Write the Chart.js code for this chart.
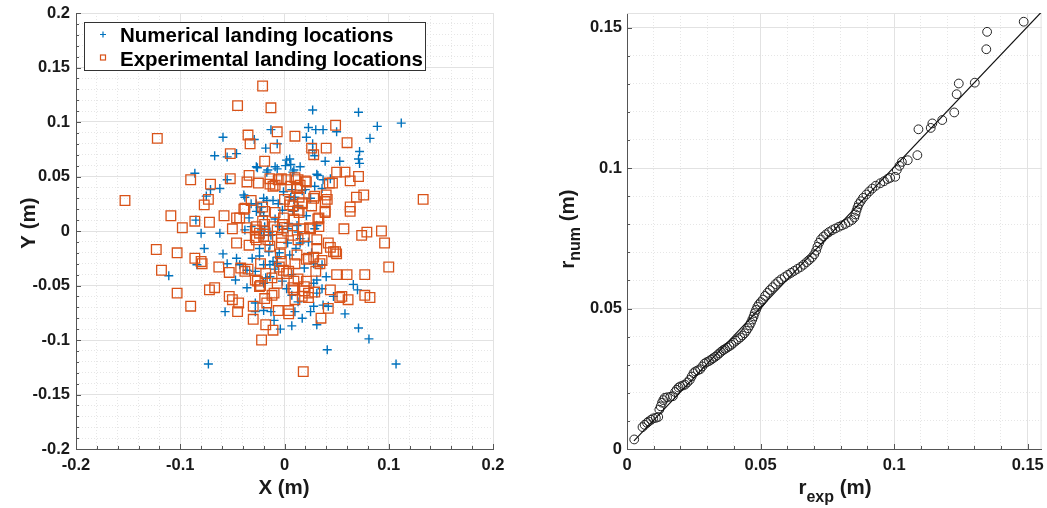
<!DOCTYPE html>
<html><head><meta charset="utf-8">
<script src="https://cdn.jsdelivr.net/npm/chart.js@4/dist/chart.umd.min.js"></script>
<style>
html,body{margin:0;padding:0;background:#fff;}
body{width:1047px;height:508px;position:relative;overflow:hidden;}
#c1{position:absolute;left:0;top:0;width:520px;height:508px;}
#c2{position:absolute;left:537px;top:0;width:510px;height:508px;}
</style></head><body>
<canvas id="c1" width="520" height="508"></canvas>
<canvas id="c2" width="510" height="508"></canvas>
<script>
// ---------- DATA ----------
const numLabel = 'Numerical landing locations';
const expLabel = 'Experimental landing locations';

const numX = [0.027,0.071,0.112,0.089,0.023,0.030,0.037,0.050,-0.013,-0.059,0.082,0.021,-0.029,-0.007,0.027,-0.018,0.027,0.072,-0.046,-0.067,-0.055,0.029,0.005,0.039,0.053,0.071,0.072,-0.027,0.015,0.001,-0.007,0.008,-0.086,0.031,-0.017,0.037,0.044,-0.055,-0.001,-0.062,-0.071,-0.075,0.017,0.029,0.036,-0.039,-0.020,-0.011,-0.027,0.025,0.009,0.013,-0.002,-0.027,-0.085,-0.034,-0.020,-0.080,-0.062,-0.038,-0.019,0.003,0.029,-0.013,0.015,0.023,-0.077,-0.059,-0.046,-0.031,-0.015,-0.007,0.026,-0.111,-0.084,-0.055,-0.043,-0.036,-0.020,-0.014,-0.007,0.005,0.028,0.036,0.019,0.040,-0.047,-0.036,-0.020,-0.014,-0.002,0.002,0.007,0.028,0.031,0.036,0.066,0.070,0.047,0.013,0.028,0.037,0.042,-0.028,-0.028,-0.020,-0.013,-0.057,0.010,0.025,0.058,-0.010,0.017,0.031,0.007,-0.004,0.071,0.081,0.041,-0.073,0.107,-0.026,-0.016,0.002,-0.009,0.009,0.006,0.007,-0.038,-0.032,-0.022,-0.017,-0.006,0.006,-0.023,-0.009,0.004,-0.032,-0.022,-0.014,-0.005,0.013,0.032,0.020,0.010,0.008,0.021,0.031,0.012,-0.024,-0.011,-0.009,-0.028,-0.018,0.007,-0.020,-0.014,-0.005,0.003,0.011,-0.024,0.015,0.031];
const numY = [0.111,0.109,0.099,0.096,0.095,0.093,0.093,0.091,0.093,0.086,0.085,0.086,0.084,0.080,0.080,0.076,0.074,0.073,0.071,0.069,0.068,0.069,0.066,0.064,0.064,0.066,0.062,0.059,0.059,0.060,0.057,0.054,0.053,0.052,0.054,0.047,0.048,0.047,0.036,0.039,0.038,0.032,0.037,0.041,0.039,0.033,0.030,0.028,0.025,0.030,0.029,0.022,0.019,0.018,0.010,0.012,0.014,-0.002,-0.002,0.001,0.004,0.002,0.002,-0.004,-0.007,-0.010,-0.016,-0.021,-0.025,-0.025,-0.019,-0.024,-0.020,-0.041,-0.031,-0.030,-0.031,-0.036,-0.031,-0.031,-0.030,-0.022,-0.030,-0.031,-0.034,-0.042,-0.045,-0.052,-0.048,-0.042,-0.046,-0.053,-0.059,-0.048,-0.057,-0.053,-0.049,-0.054,-0.060,-0.065,-0.069,-0.068,-0.069,-0.066,-0.074,-0.073,-0.074,-0.074,-0.074,-0.074,-0.076,-0.082,-0.080,-0.086,-0.087,-0.090,-0.089,-0.099,-0.109,-0.122,-0.122,0.058,0.056,0.065,0.059,0.056,0.061,0.038,0.031,0.025,0.022,0.028,0.025,0.031,0.017,0.011,0.007,0.004,0.001,-0.001,0.004,-0.001,0.051,0.038,0.031,0.018,0.014,0.005,0.005,-0.023,-0.028,-0.035,-0.037,-0.043,-0.040,-0.004,-0.013,-0.020,-0.011,-0.016,-0.016,-0.011,-0.045];

const expX = [-0.021,-0.045,-0.013,-0.122,-0.035,-0.007,0.010,0.049,0.060,-0.033,-0.009,0.026,0.040,-0.052,0.028,-0.019,0.050,0.058,0.071,0.063,-0.090,-0.052,-0.034,-0.036,-0.014,-0.006,-0.003,0.002,0.013,0.021,-0.025,-0.014,-0.009,0.006,0.015,0.043,-0.071,-0.153,0.133,0.076,0.069,-0.073,-0.077,0.040,0.041,0.028,0.014,0.000,-0.032,0.005,0.017,0.026,0.063,0.063,-0.039,-0.019,-0.009,0.013,0.039,-0.109,-0.058,-0.046,-0.098,-0.086,-0.072,-0.050,-0.036,-0.027,-0.019,-0.011,-0.002,0.009,0.018,0.025,0.033,0.033,0.057,0.074,0.079,0.093,0.096,-0.123,-0.103,-0.086,-0.046,-0.034,-0.027,-0.020,-0.014,-0.003,0.008,0.013,0.031,0.031,0.042,0.044,0.049,-0.004,0.012,0.028,-0.079,-0.118,-0.063,-0.053,-0.038,-0.035,-0.023,-0.018,-0.005,-0.001,0.002,0.010,0.021,0.034,0.050,0.060,0.077,0.100,-0.103,-0.090,-0.072,-0.067,-0.053,-0.050,-0.044,-0.045,-0.026,-0.023,-0.019,-0.017,-0.010,-0.030,-0.030,-0.018,-0.011,-0.006,0.004,0.004,0.009,0.013,0.021,0.019,0.009,0.017,0.023,0.010,0.029,0.044,0.055,0.061,0.077,0.082,0.042,0.035,-0.022,0.018,-0.011,0.010,0.012,0.005,-0.038,-0.021,-0.001,-0.043,-0.021,-0.028,-0.007,0.020,0.012,0.029,0.039,0.017,0.008,0.014,0.032,0.039,0.024,0.009,0.046,-0.028,-0.024,-0.016,-0.003,0.003,-0.080,-0.042,-0.028,-0.024,-0.012,-0.007,-0.003,0.004,-0.012,0.019,0.023,0.036,0.030,0.019,0.008,0.023,0.053,0.047,0.050];
const expY = [0.133,0.115,0.113,0.085,0.088,0.091,0.087,0.097,0.081,0.080,0.076,0.076,0.076,0.071,0.070,0.064,0.054,0.054,0.050,0.046,0.047,0.048,0.051,0.045,0.048,0.047,0.048,0.047,0.047,0.045,0.044,0.043,0.042,0.041,0.042,0.044,0.043,0.028,0.029,0.033,0.031,0.029,0.024,0.033,0.029,0.030,0.031,0.029,0.028,0.027,0.025,0.023,0.022,0.018,0.020,0.018,0.017,0.019,0.017,0.014,0.014,0.012,0.003,0.009,0.008,0.002,0.003,0.004,0.006,0.004,0.006,0.010,0.002,0.002,0.012,0.004,0.002,-0.004,-0.001,0.000,-0.011,-0.017,-0.020,-0.025,-0.011,-0.013,-0.008,-0.005,-0.014,-0.011,-0.004,-0.008,-0.008,-0.016,-0.011,-0.015,-0.019,-0.021,-0.022,-0.024,-0.030,-0.036,-0.033,-0.038,-0.037,-0.035,-0.030,-0.039,-0.033,-0.036,-0.039,-0.030,-0.026,-0.030,-0.040,-0.040,-0.040,-0.033,-0.057,-0.069,-0.054,-0.052,-0.060,-0.063,-0.066,-0.074,-0.046,-0.050,-0.062,-0.066,-0.057,-0.069,-0.081,-0.086,-0.091,-0.073,-0.073,-0.076,-0.046,-0.044,-0.046,-0.051,-0.054,-0.060,-0.057,-0.063,-0.056,-0.054,-0.060,-0.063,-0.059,-0.061,-0.071,-0.080,-0.100,-0.129,0.041,0.049,0.040,0.024,0.021,0.022,0.012,0.012,0.009,0.001,0.001,0.046,0.039,0.032,0.027,0.026,0.023,0.017,0.011,0.018,0.003,0.011,0.044,-0.006,-0.002,-0.008,-0.006,0.000,-0.028,-0.034,-0.045,-0.051,-0.043,-0.048,-0.028,-0.037,-0.059,-0.005,-0.025,-0.027,-0.037,-0.055,-0.052,-0.061,-0.061,-0.019,-0.021];

// Q-Q plot: sorted experimental radii vs sorted numerical radii
const qqExp = [0.0027,0.0058,0.0066,0.0075,0.0081,0.0090,0.0098,0.0108,0.0117,0.0121,0.0126,0.0131,0.0136,0.0141,0.0150,0.0162,0.0172,0.0180,0.0186,0.0193,0.0200,0.0209,0.0217,0.0226,0.0235,0.0242,0.0249,0.0256,0.0265,0.0274,0.0282,0.0290,0.0298,0.0307,0.0315,0.0322,0.0330,0.0338,0.0345,0.0352,0.0360,0.0367,0.0375,0.0383,0.0391,0.0399,0.0408,0.0416,0.0424,0.0432,0.0440,0.0447,0.0453,0.0459,0.0464,0.0469,0.0474,0.0478,0.0483,0.0488,0.0494,0.0501,0.0509,0.0517,0.0526,0.0535,0.0545,0.0556,0.0566,0.0577,0.0590,0.0602,0.0614,0.0626,0.0638,0.0650,0.0661,0.0672,0.0682,0.0692,0.0701,0.0708,0.0713,0.0719,0.0726,0.0735,0.0745,0.0756,0.0768,0.0780,0.0793,0.0805,0.0817,0.0830,0.0842,0.0851,0.0855,0.0859,0.0863,0.0868,0.0875,0.0884,0.0896,0.0907,0.0918,0.0931,0.0948,0.0962,0.0975,0.0985,0.1004,0.1010,0.1020,0.1029,0.1051,0.1087,0.1091,0.1137,0.1143,0.1180,0.1225,0.1234,0.1242,0.1302,0.1345,0.1348,0.1485];
const qqNum = [0.0034,0.0078,0.0086,0.0093,0.0098,0.0104,0.0109,0.0111,0.0114,0.0140,0.0152,0.0165,0.0174,0.0182,0.0184,0.0186,0.0188,0.0203,0.0211,0.0219,0.0223,0.0226,0.0229,0.0237,0.0246,0.0258,0.0270,0.0276,0.0280,0.0284,0.0294,0.0304,0.0309,0.0313,0.0318,0.0323,0.0328,0.0334,0.0340,0.0346,0.0352,0.0356,0.0361,0.0366,0.0371,0.0378,0.0385,0.0391,0.0397,0.0404,0.0412,0.0421,0.0430,0.0440,0.0450,0.0461,0.0472,0.0484,0.0495,0.0506,0.0515,0.0523,0.0532,0.0545,0.0556,0.0566,0.0576,0.0587,0.0596,0.0604,0.0612,0.0620,0.0627,0.0634,0.0641,0.0648,0.0656,0.0665,0.0673,0.0682,0.0693,0.0706,0.0720,0.0734,0.0746,0.0756,0.0764,0.0772,0.0779,0.0785,0.0791,0.0796,0.0801,0.0808,0.0815,0.0824,0.0835,0.0848,0.0860,0.0872,0.0882,0.0894,0.0906,0.0917,0.0927,0.0937,0.0946,0.0953,0.0961,0.0965,0.0969,0.0993,0.1008,0.1022,0.1028,0.1046,0.1138,0.1143,0.1159,0.1171,0.1198,0.1263,0.1301,0.1304,0.1423,0.1485,0.1521];
const refLineX = [0.0026, 0.1552];
const refLineY = [0.0029, 0.1556];

// ticks
const leftXTicks = [-0.2,-0.1,0,0.1,0.2];
const leftXLabels = ['-0.2','-0.1','0','0.1','0.2'];
const leftYTicks = [-0.2,-0.15,-0.1,-0.05,0,0.05,0.1,0.15,0.2];
const leftYLabels = ['-0.2','-0.15','-0.1','-0.05','0','0.05','0.1','0.15','0.2'];
const rTicks = [0,0.05,0.1,0.15];
const rLabels = ['0','0.05','0.1','0.15'];

// titles
const leftXTitle = 'X (m)';
const leftYTitle = 'Y (m)';
const rightXTitle = [['r',false],['exp',true],[' (m)',false]];
const rightYTitle = [['r',false],['num',true],[' (m)',false]];

// ---------- STYLE ----------
const FONT = "'Liberation Sans', Arial, Helvetica, sans-serif";
const BLUE = '#0072BD', ORANGE = '#D95319';
const AXIS = '#555555', TXT = '#1a1a1a';
const MAJOR = '#e2e2e2', MINOR = '#e6e6e6';
const MAIN_FONT = 'bold 20.5px ' + FONT;
const SUB_FONT = 'bold 16px ' + FONT;

const pts = (xs, ys) => xs.map((x, i) => ({x, y: ys[i]}));
const setTicks = (vals) => (s) => { s.ticks = vals.map(v => ({value: v})); };
const fixW = (w) => (s) => { s.width = w; s.paddingTop = 0; s.paddingBottom = 0; };
const fixH = (h) => (s) => { s.height = h; s.paddingLeft = 0; s.paddingRight = 0; };

function drawParts(ctx, parts, cx, base, rot, subOff) {
  ctx.save();
  ctx.translate(cx, base);
  if (rot) ctx.rotate(-Math.PI / 2);
  const ws = parts.map(p => { ctx.font = p[1] ? SUB_FONT : MAIN_FONT; return ctx.measureText(p[0]).width; });
  let x = -ws.reduce((a, b) => a + b, 0) / 2;
  ctx.fillStyle = TXT; ctx.textAlign = 'left'; ctx.textBaseline = 'alphabetic';
  parts.forEach((p, i) => { ctx.font = p[1] ? SUB_FONT : MAIN_FONT; ctx.fillText(p[0], x, p[1] ? subOff : 0); x += ws[i]; });
  ctx.restore();
}

function inwardTicks(chart, xs, ys) {
  const ctx = chart.ctx, a = chart.chartArea;
  ctx.save(); ctx.strokeStyle = AXIS; ctx.lineWidth = 1; ctx.beginPath();
  xs.forEach(([id, len]) => { const s = chart.scales[id];
    s.ticks.forEach(t => { const p = Math.round(s.getPixelForValue(t.value)) + 0.5; ctx.moveTo(p, a.bottom); ctx.lineTo(p, a.bottom - len); }); });
  ys.forEach(([id, len]) => { const s = chart.scales[id];
    s.ticks.forEach(t => { const p = Math.round(s.getPixelForValue(t.value)) + 0.5; ctx.moveTo(a.left, p); ctx.lineTo(a.left + len, p); }); });
  ctx.stroke(); ctx.restore();
}

function tickFont() { return {family: FONT, size: 16.5, weight: 'bold'}; }

function minorScale(pos, min, max, step) {
  return {type: 'linear', position: pos, min, max,
    ticks: {display: false, stepSize: step, maxTicksLimit: 1000, includeBounds: false},
    grid: {color: MINOR, lineWidth: 1, drawTicks: false, z: -2},
    border: {display: false, dash: [1, 2]},
    afterFit: pos === 'left' ? fixW(0) : fixH(0)};
}

const common = {responsive: false, animation: false, events: [],
  plugins: {legend: {display: false}, tooltip: {enabled: false}}};

// ---------- LEFT CHART ----------
new Chart(document.getElementById('c1'), {
  type: 'scatter',
  data: {datasets: [
    {label: numLabel, data: pts(numX, numY), pointStyle: 'cross', pointRadius: 4.5, pointBorderWidth: 1.4,
     borderColor: BLUE, backgroundColor: BLUE, order: 1},
    {label: expLabel, data: pts(expX, expY), pointStyle: 'rect', pointRadius: 6.8, pointBorderWidth: 1.3,
     borderColor: ORANGE, backgroundColor: 'rgba(0,0,0,0)', order: 0}
  ]},
  options: Object.assign({}, common, {
    layout: {padding: {left: 0, right: 27, top: 13, bottom: 0}},
    scales: {
      xm: minorScale('bottom', -0.2, 0.2, 0.02),
      ym: minorScale('left', -0.2, 0.2, 0.01),
      x: {type: 'linear', position: 'bottom', min: -0.2, max: 0.2, afterBuildTicks: setTicks(leftXTicks), afterFit: fixH(59),
          ticks: {font: tickFont(), color: TXT, padding: 7, maxRotation: 0, callback: (v, i) => leftXLabels[i]},
          grid: {color: MAJOR, drawTicks: false, z: -1}, border: {display: true, color: AXIS, width: 1}},
      y: {type: 'linear', position: 'left', min: -0.2, max: 0.2, afterBuildTicks: setTicks(leftYTicks), afterFit: fixW(76),
          ticks: {font: tickFont(), color: TXT, padding: 6, callback: (v, i) => leftYLabels[i]},
          grid: {color: MAJOR, drawTicks: false, z: -1}, border: {display: true, color: AXIS, width: 1}}
    }
  }),
  plugins: [{
    id: 'deco1',
    afterDraw(chart) {
      const ctx = chart.ctx;
      inwardTicks(chart, [['x', 5], ['xm', 3]], [['y', 5], ['ym', 3]]);
      drawParts(ctx, [[leftXTitle, false]], 284, 494, false, 0);
      drawParts(ctx, [[leftYTitle, false]], 35, 223, true, 0);
      // legend
      const ds = chart.data.datasets;
      ctx.save();
      ctx.fillStyle = '#ffffff'; ctx.fillRect(84, 22, 342, 49);
      ctx.strokeStyle = '#333333'; ctx.lineWidth = 1; ctx.strokeRect(84.5, 22.5, 341, 48);
      ctx.font = 'bold 20.5px ' + FONT; ctx.fillStyle = '#000'; ctx.textBaseline = 'alphabetic'; ctx.textAlign = 'left';
      ctx.fillText(ds[0].label, 120, 42);
      ctx.fillText(ds[1].label, 120, 66);
      ctx.strokeStyle = ds[0].borderColor; ctx.lineWidth = 1.2; ctx.beginPath();
      ctx.moveTo(100, 34.5); ctx.lineTo(106, 34.5); ctx.moveTo(103, 31.5); ctx.lineTo(103, 37.5); ctx.stroke();
      ctx.strokeStyle = ds[1].borderColor; ctx.strokeRect(100.5, 55, 5, 5);
      ctx.restore();
    }
  }]
});

// ---------- RIGHT CHART ----------
const OFF = 537;
new Chart(document.getElementById('c2'), {
  type: 'scatter',
  data: {datasets: [
    {label: 'ref', type: 'line', data: pts(refLineX, refLineY), borderColor: '#111', borderWidth: 1.2, pointRadius: 0, fill: false, order: 0},
    {label: 'qq', data: pts(qqExp, qqNum), pointStyle: 'circle', pointRadius: 4.4, pointBorderWidth: 1,
     borderColor: '#222', backgroundColor: 'rgba(0,0,0,0)', order: 1}
  ]},
  options: Object.assign({}, common, {
    layout: {padding: {left: 0, right: 3, top: 13, bottom: 0}},
    scales: {
      xm: minorScale('bottom', 0, 0.1552, 0.01),
      ym: minorScale('left', 0, 0.1552, 0.01),
      x: {type: 'linear', position: 'bottom', min: 0, max: 0.1552, afterBuildTicks: setTicks(rTicks), afterFit: fixH(59),
          ticks: {font: tickFont(), color: TXT, padding: 7, maxRotation: 0, callback: (v, i) => rLabels[i]},
          grid: {color: MAJOR, drawTicks: false, z: -1}, border: {display: true, color: AXIS, width: 1}},
      y: {type: 'linear', position: 'left', min: 0, max: 0.1552, afterBuildTicks: setTicks(rTicks), afterFit: fixW(627 - OFF),
          ticks: {font: tickFont(), color: TXT, padding: 5, callback: (v, i) => rLabels[i]},
          grid: {color: MAJOR, drawTicks: false, z: -1}, border: {display: true, color: AXIS, width: 1}}
    }
  }),
  plugins: [{
    id: 'deco2',
    beforeDatasetsDraw(chart) {
      const ctx = chart.ctx, a = chart.chartArea;
      ctx.save(); ctx.strokeStyle = MAJOR; ctx.lineWidth = 1; ctx.beginPath();
      ctx.moveTo(a.left, a.top + 0.5); ctx.lineTo(a.right, a.top + 0.5);
      ctx.moveTo(a.right - 0.5, a.top); ctx.lineTo(a.right - 0.5, a.bottom);
      ctx.stroke(); ctx.restore();
    },
    afterDraw(chart) {
      const ctx = chart.ctx;
      inwardTicks(chart, [['x', 5], ['xm', 3]], [['y', 5], ['ym', 3]]);
      drawParts(ctx, rightXTitle, 835 - OFF, 494, false, 8);
      drawParts(ctx, rightYTitle, 574 - OFF, 229, true, 6);
    }
  }]
});
</script></body></html>
